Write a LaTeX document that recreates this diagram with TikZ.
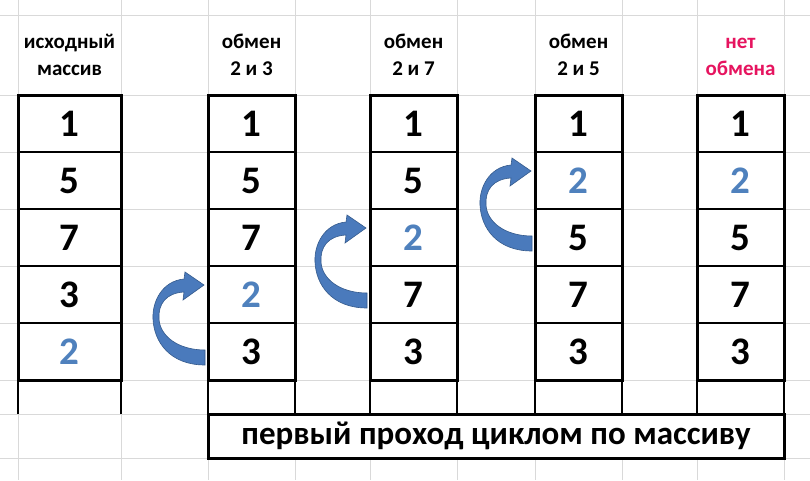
\documentclass[tikz,border=0pt]{standalone}
\usepackage{fontspec}
\setmainfont{Carlito}
\usetikzlibrary{positioning}
\definecolor{arrblue}{RGB}{74,122,188}
\definecolor{arredge}{RGB}{52,90,140}
\definecolor{numblue}{RGB}{79,129,189}
\definecolor{netred}{RGB}{230,20,95}
\definecolor{gridgray}{RGB}{217,217,217}
\tikzset{>=stealth,
  cell/.style={draw, line width=2pt, minimum width=87pt, minimum height=57pt,
    inner sep=0pt, outer sep=0pt, font=\fontsize{39}{42}\selectfont\bfseries},
  wcell/.style={cell, minimum width=103pt},
  head/.style={align=center, anchor=base, font=\fontsize{21}{27}\selectfont\bfseries},
  frame/.style={line width=3pt},
  ext/.style={line width=2pt},
  arrfill/.style={fill=arrblue, draw=arredge, line width=0.6pt},
  swaparc/.pic={
    \filldraw[arrfill] (-24,13) .. controls (-46,15) and (-56,36) .. (-55,53)
      .. controls (-54,76) and (-38,99) .. (-3,99) -- (-3,84)
      .. controls (-30,84) and (-48,70) .. (-49,53)
      .. controls (-50,38) and (-42,27) .. (-24,26)
      -- (-25,34) -- (-4,19) -- (-23,6) -- cycle;
  }
}

\begin{document}
\begin{tikzpicture}[x=1pt, y=-1pt]
\fill[white] (0,0) rectangle (810,480);
\useasboundingbox (0,0) rectangle (810,480);
% spreadsheet grid
\foreach \gx in {18,121,208,295,370,457,535,622,697,784}
  \draw[gridgray, line width=1pt] (\gx,0) -- (\gx,480);
\foreach \gy in {15,95,152,209,266,323,380,414,458}
  \draw[gridgray, line width=1pt] (0,\gy) -- (810,\gy);

% headers (base = last line)
\node[head] (ha) at (69.5,75) {исходный\\массив};
\node[head] (hb) at (251.5,75) {обмен\\2 и 3};
\node[head] (hc) at (413.5,75) {обмен\\2 и 7};
\node[head] (hd) at (578.5,75) {обмен\\2 и 5};
\node[head, text=netred] (he) at (740.5,75) {нет\\обмена};

% initial array
\node[wcell] (a1) at (69.5,123.5) {1};
\node[wcell, below=0pt of a1] (a2) {5};
\node[wcell, below=0pt of a2] (a3) {7};
\node[wcell, below=0pt of a3] (a4) {3};
\node[wcell, below=0pt of a4, text=numblue] (a5) {2};

% swap 2 and 3
\node[cell] (b1) at (251.5,123.5) {1};
\node[cell, below=0pt of b1] (b2) {5};
\node[cell, below=0pt of b2] (b3) {7};
\node[cell, below=0pt of b3, text=numblue] (b4) {2};
\node[cell, below=0pt of b4] (b5) {3};

% swap 2 and 7
\node[cell] (c1) at (413.5,123.5) {1};
\node[cell, below=0pt of c1] (c2) {5};
\node[cell, below=0pt of c2, text=numblue] (c3) {2};
\node[cell, below=0pt of c3] (c4) {7};
\node[cell, below=0pt of c4] (c5) {3};

% swap 2 and 5
\node[cell] (d1) at (578.5,123.5) {1};
\node[cell, below=0pt of d1, text=numblue] (d2) {2};
\node[cell, below=0pt of d2] (d3) {5};
\node[cell, below=0pt of d3] (d4) {7};
\node[cell, below=0pt of d4] (d5) {3};

% no swap
\node[cell] (e1) at (740.5,123.5) {1};
\node[cell, below=0pt of e1, text=numblue] (e2) {2};
\node[cell, below=0pt of e2] (e3) {5};
\node[cell, below=0pt of e3] (e4) {7};
\node[cell, below=0pt of e4] (e5) {3};

% thick frames and empty cells below
\foreach \col in {a,b,c,d,e} {
  \draw[frame] (\col1.north west) rectangle (\col5.south east);
  \draw[ext] (\col5.south west) -- ++(0,34);
  \draw[ext] (\col5.south east) -- ++(0,34);
}

\node[draw, frame, fill=white, minimum width=576pt, minimum height=44pt, inner sep=0pt,
  font=\fontsize{33}{36}\selectfont\bfseries] (pass) at (496,436) {первый проход циклом по массиву};

% swap arrows
\pic at (b4.north west) {swaparc};
\pic at (c3.north west) {swaparc};
\pic at (d2.north west) {swaparc};
\end{tikzpicture}
\end{document}
